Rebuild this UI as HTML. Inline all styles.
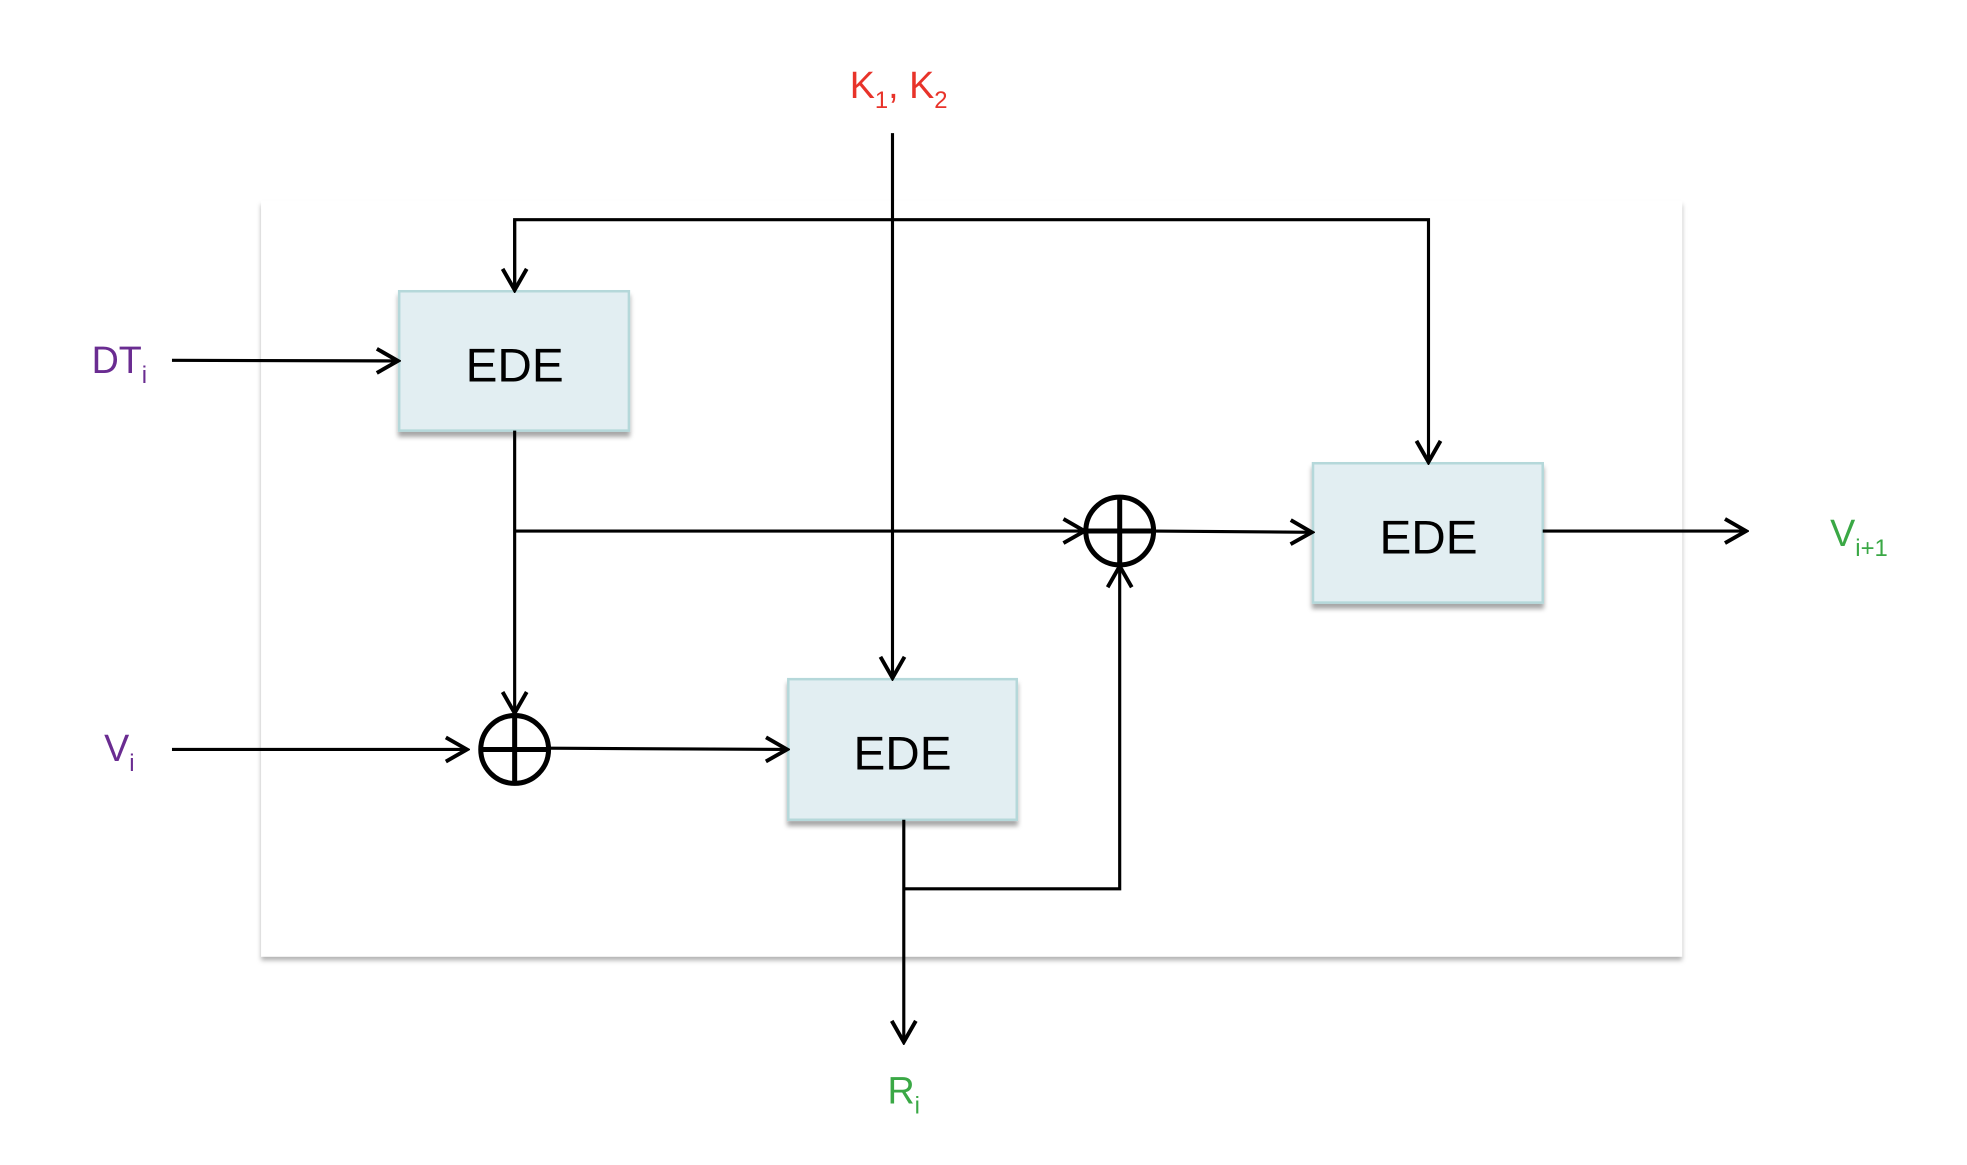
<!DOCTYPE html>
<html><head><meta charset="utf-8"><style>
html,body{margin:0;padding:0;background:#fff;}
svg{display:block;}
text{font-family:"Liberation Sans",sans-serif;}
</style></head><body>
<svg width="1967" height="1165" viewBox="0 0 1567 928" preserveAspectRatio="none" xmlns="http://www.w3.org/2000/svg">
<defs>
<marker id="a" viewBox="0 0 20 20" refX="18" refY="10" markerWidth="24" markerHeight="24" markerUnits="userSpaceOnUse" orient="auto">
<path d="M4 2 L18 10 L4 18" fill="none" stroke="#000" stroke-width="2.6"/>
</marker>
<filter id="s" x="-10%" y="-10%" width="120%" height="130%"><feDropShadow dx="0" dy="4" stdDeviation="2" flood-color="#000" flood-opacity="0.35"/></filter>
<filter id="p" x="-5%" y="-5%" width="110%" height="110%"><feDropShadow dx="0" dy="3" stdDeviation="2" flood-color="#000" flood-opacity="0.3"/></filter>
</defs>
<rect x="208" y="160" width="1132" height="602" fill="#fff" filter="url(#p)"/>
<g filter="url(#s)" fill="#e2eef2" stroke="#b5d8da" stroke-width="2">
<rect x="318" y="232" width="183" height="111"/>
<rect x="628" y="541" width="182" height="112"/>
<rect x="1046" y="369" width="183" height="111"/>
</g>
<g font-size="38" text-anchor="middle" fill="#000">
<text x="410" y="304">EDE</text>
<text x="719" y="613">EDE</text>
<text x="1138" y="441">EDE</text>
</g>
<g stroke="#000" stroke-width="2.5" fill="none">
<line x1="711" y1="106" x2="711" y2="540" marker-end="url(#a)"/>
<polyline points="410,232 410,175 1138,175 1138,368" marker-end="url(#a)"/>
<path d="M410 175 L410 231" marker-end="url(#a)"/>
<line x1="137" y1="287" x2="317" y2="287.5" marker-end="url(#a)"/>
<line x1="410" y1="343" x2="410" y2="568" marker-end="url(#a)"/>
<line x1="410" y1="423" x2="864" y2="423" marker-end="url(#a)"/>
<line x1="920" y1="423" x2="1045" y2="424" marker-end="url(#a)"/>
<line x1="1229" y1="423" x2="1391" y2="423" marker-end="url(#a)"/>
<line x1="137" y1="597" x2="372" y2="597" marker-end="url(#a)"/>
<line x1="437" y1="596" x2="627" y2="597" marker-end="url(#a)"/>
<line x1="720" y1="653" x2="720" y2="830" marker-end="url(#a)"/>
<polyline points="720,708 892,708 892,451" marker-end="url(#a)"/>
</g>
<g stroke="#000" stroke-width="4" fill="none">
<circle cx="410" cy="597" r="27"/>
<line x1="383" y1="597" x2="437" y2="597"/><line x1="410" y1="570" x2="410" y2="624"/>
<circle cx="892" cy="423" r="27"/>
<line x1="865" y1="423" x2="919" y2="423"/><line x1="892" y1="396" x2="892" y2="450"/>
</g>
<text x="677" y="78" font-size="30" fill="#e8332a">K<tspan font-size="19" dy="8">1</tspan><tspan dy="-8">, K</tspan><tspan font-size="19" dy="8">2</tspan></text>
<text x="73" y="297" font-size="30" fill="#6a2c91">DT<tspan font-size="19" dy="8">i</tspan></text>
<text x="83" y="606" font-size="30" fill="#6a2c91">V<tspan font-size="19" dy="8">i</tspan></text>
<text x="1458" y="435" font-size="30" fill="#3aa845">V<tspan font-size="19" dy="8">i+1</tspan></text>
<text x="707" y="879" font-size="30" fill="#3aa845">R<tspan font-size="19" dy="8">i</tspan></text>
</svg>
</body></html>
